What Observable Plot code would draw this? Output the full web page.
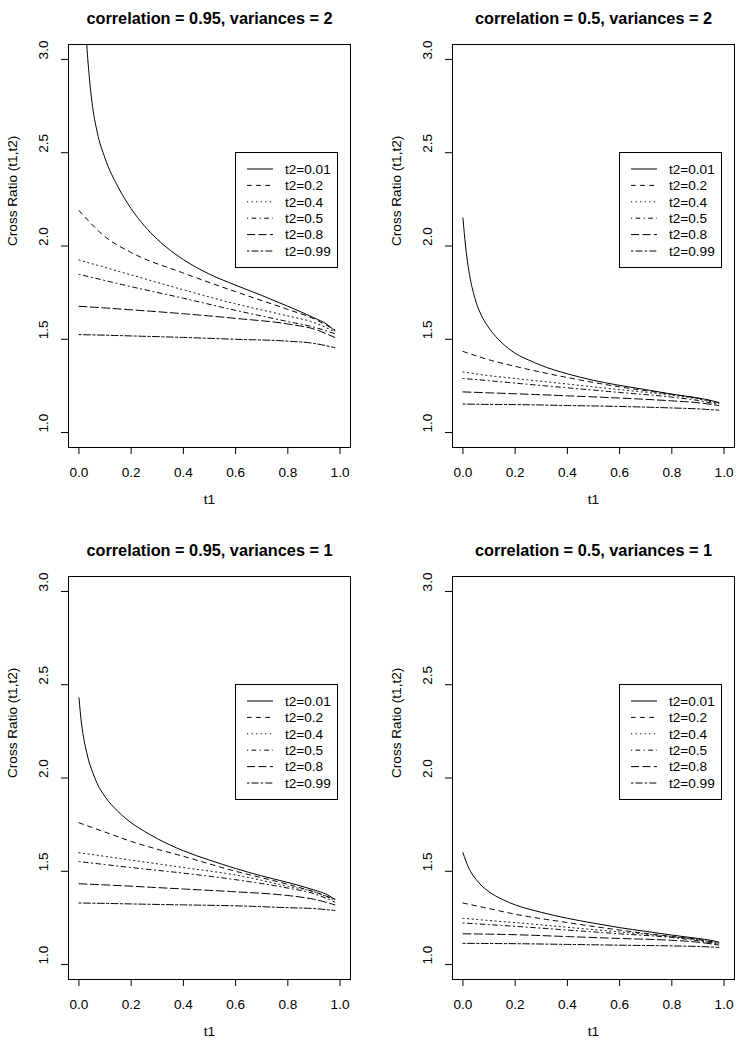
<!DOCTYPE html>
<html>
<head>
<meta charset="utf-8">
<script src="https://cdn.jsdelivr.net/npm/d3@7"></script>
<script src="https://cdn.jsdelivr.net/npm/@observablehq/plot@0.6"></script>
<style>
  html, body { margin: 0; padding: 0; background: #fff; }
  #wrap { position: relative; width: 741px; height: 1050px; overflow: hidden; background: #fff; }
  .panel { position: absolute; }
</style>
</head>
<body>
<div id="wrap"></div>
<script>
// ---- Data ----
const titles = [
  "correlation = 0.95, variances = 2",
  "correlation = 0.5, variances = 2",
  "correlation = 0.95, variances = 1",
  "correlation = 0.5, variances = 1"
];
const t2Labels = ["t2=0.01", "t2=0.2", "t2=0.4", "t2=0.5", "t2=0.8", "t2=0.99"];
const xTicks = [0, 0.2, 0.4, 0.6, 0.8, 1.0];
const yTicks = [1.0, 1.5, 2.0, 2.5, 3.0];

// t1 sampling for the t2=0.01 curve (steep) and for the other curves
const t1Fine   = [0, 0.01, 0.02, 0.03, 0.04, 0.05, 0.07, 0.1, 0.15, 0.2, 0.25, 0.3, 0.4, 0.5, 0.6, 0.7, 0.8, 0.9, 0.95, 0.98];
const t1Coarse = [0, 0.1, 0.2, 0.4, 0.6, 0.8, 0.9, 0.98];

// Panel 1: correlation 0.95, variances 2
const p1_t001 = [4.3, 3.75, 3.35, 3.08, 2.9, 2.77, 2.61, 2.47, 2.316, 2.2, 2.109, 2.036, 1.927, 1.849, 1.79, 1.735, 1.677, 1.615, 1.58, 1.545];
const p1_t02  = [2.19, 2.05, 1.965, 1.855, 1.755, 1.66, 1.61, 1.55];
const p1_t04  = [1.925, 1.885, 1.845, 1.765, 1.69, 1.625, 1.59, 1.54];
const p1_t05  = [1.848, 1.815, 1.782, 1.72, 1.655, 1.595, 1.565, 1.53];
const p1_t08  = [1.677, 1.668, 1.658, 1.637, 1.612, 1.582, 1.555, 1.51];
const p1_t099 = [1.525, 1.522, 1.518, 1.51, 1.5, 1.49, 1.478, 1.455];

// Panel 2: correlation 0.5, variances 2
const p2_t001 = [2.15, 2.0, 1.89, 1.81, 1.75, 1.70, 1.63, 1.56, 1.48, 1.425, 1.39, 1.36, 1.315, 1.28, 1.253, 1.23, 1.206, 1.185, 1.172, 1.16];
const p2_t02  = [1.435, 1.39, 1.355, 1.295, 1.245, 1.205, 1.185, 1.16];
const p2_t04  = [1.325, 1.305, 1.29, 1.26, 1.23, 1.2, 1.18, 1.155];
const p2_t05  = [1.29, 1.278, 1.265, 1.24, 1.215, 1.19, 1.172, 1.15];
const p2_t08  = [1.218, 1.213, 1.208, 1.197, 1.185, 1.17, 1.16, 1.145];
const p2_t099 = [1.153, 1.151, 1.15, 1.145, 1.14, 1.132, 1.127, 1.12];

// Panel 3: correlation 0.95, variances 1
const p3_t001 = [2.43, 2.29, 2.2, 2.135, 2.08, 2.04, 1.97, 1.9, 1.82, 1.76, 1.715, 1.675, 1.61, 1.56, 1.515, 1.475, 1.44, 1.4, 1.375, 1.35];
const p3_t02  = [1.76, 1.71, 1.66, 1.58, 1.5, 1.43, 1.39, 1.35];
const p3_t04  = [1.60, 1.58, 1.56, 1.52, 1.48, 1.42, 1.39, 1.345];
const p3_t05  = [1.552, 1.536, 1.52, 1.49, 1.455, 1.41, 1.38, 1.335];
const p3_t08  = [1.433, 1.427, 1.42, 1.405, 1.39, 1.37, 1.35, 1.32];
const p3_t099 = [1.33, 1.328, 1.325, 1.32, 1.315, 1.305, 1.3, 1.29];

// Panel 4: correlation 0.5, variances 1
const p4_t001 = [1.6, 1.56, 1.525, 1.497, 1.475, 1.457, 1.425, 1.39, 1.35, 1.32, 1.298, 1.28, 1.248, 1.222, 1.198, 1.178, 1.158, 1.14, 1.13, 1.12];
const p4_t02  = [1.33, 1.3, 1.27, 1.225, 1.185, 1.15, 1.135, 1.115];
const p4_t04  = [1.248, 1.236, 1.225, 1.2, 1.175, 1.15, 1.133, 1.115];
const p4_t05  = [1.223, 1.214, 1.205, 1.185, 1.165, 1.145, 1.128, 1.11];
const p4_t08  = [1.165, 1.163, 1.16, 1.15, 1.14, 1.13, 1.12, 1.105];
const p4_t099 = [1.114, 1.113, 1.112, 1.108, 1.104, 1.1, 1.097, 1.092];

const panelSeries = [
  [p1_t001, p1_t02, p1_t04, p1_t05, p1_t08, p1_t099],
  [p2_t001, p2_t02, p2_t04, p2_t05, p2_t08, p2_t099],
  [p3_t001, p3_t02, p3_t04, p3_t05, p3_t08, p3_t099],
  [p4_t001, p4_t02, p4_t04, p4_t05, p4_t08, p4_t099]
];

// ---- Style ----
// R line types: solid, dashed, dotted, dotdash, longdash, twodash
const dashes = [null, "4.6,4.6", "1.15,3.45", "1.15,3.45,4.6,3.45", "8,3.45", "2.3,2.3,6.9,2.3"];
const FONT = "'Liberation Sans', Arial, Helvetica, sans-serif";
const FS = 13.6;
const layout = [
  {left: 0,   top: 0,   width: 370, mr: 20},
  {left: 384, top: 0,   width: 357, mr: 7},
  {left: 0,   top: 532, width: 370, mr: 20},
  {left: 384, top: 532, width: 357, mr: 7}
];

const wrap = document.getElementById("wrap");

panelSeries.forEach((series, p) => {
  const L = layout[p];
  const lineMarks = series.map((ys, i) => {
    const xs = i === 0 ? t1Fine : t1Coarse;
    const rows = ys.map((v, j) => ({t1: xs[j], cr: v}));
    return Plot.line(rows, {
      x: "t1", y: "cr", stroke: "#000", strokeWidth: 1,
      strokeDasharray: dashes[i] || undefined,
      curve: "monotone-x", clip: true
    });
  });

  const chart = Plot.plot({
    width: L.width,
    height: 525,
    marginLeft: 68,
    marginRight: L.mr,
    marginTop: 44,
    marginBottom: 78,
    style: {fontFamily: FONT, fontSize: FS + "px", background: "#fff", color: "#000"},
    x: {domain: [-0.04, 1.04]},
    y: {domain: [0.92, 3.08]},
    marks: [
      ...lineMarks,
      Plot.frame({stroke: "#000", strokeWidth: 1}),
      Plot.axisX({ticks: xTicks, tickSize: 7, tickFormat: () => "", label: null, stroke: "#000"}),
      Plot.axisY({ticks: yTicks, tickSize: 7, tickFormat: () => "", label: null, stroke: "#000"}),
      Plot.text(xTicks, {x: d => d, text: d => d.toFixed(1), frameAnchor: "bottom", dy: 25, lineAnchor: "middle", fontSize: FS, fill: "#000"}),
      Plot.text(yTicks, {y: d => d, text: d => d.toFixed(1), frameAnchor: "left", dx: -25, rotate: -90, lineAnchor: "middle", fontSize: FS, fill: "#000"}),
      Plot.text(["Cross Ratio (t1,t2)"], {frameAnchor: "left", dx: -56, rotate: -90, fontSize: FS, fill: "#000"}),
      Plot.text(["t1"], {frameAnchor: "bottom", dy: 56, fontSize: FS, fill: "#000"}),
      Plot.text([titles[p]], {frameAnchor: "top", dy: -32, fontSize: 16.3, fontWeight: "bold", fill: "#000"})
    ]
  });

  // Legend (R-style boxed legend, top-right inside plot region)
  const svg = d3.select(chart);
  const g = svg.append("g")
    .style("font-family", FONT)
    .style("font-size", FS + "px")
    .attr("text-anchor", "start")
    .style("text-anchor", "start");
  g.append("rect").attr("x", 235.5).attr("y", 152.5).attr("width", 102).attr("height", 115)
    .attr("fill", "#fff").attr("stroke", "#000").attr("stroke-width", 1);
  t2Labels.forEach((lab, i) => {
    const yy = 169 + i * 16.4;
    const ln = g.append("line").attr("x1", 247).attr("x2", 273).attr("y1", yy).attr("y2", yy)
      .attr("stroke", "#000").attr("stroke-width", 1);
    if (dashes[i]) ln.attr("stroke-dasharray", dashes[i]);
    g.append("text").attr("x", 285).attr("y", yy).attr("dy", "0.36em")
      .attr("fill", "#000").style("text-anchor", "start").text(lab);
  });

  const div = document.createElement("div");
  div.className = "panel";
  div.style.left = L.left + "px";
  div.style.top = L.top + "px";
  div.appendChild(chart);
  wrap.appendChild(div);
});
</script>
</body>
</html>
